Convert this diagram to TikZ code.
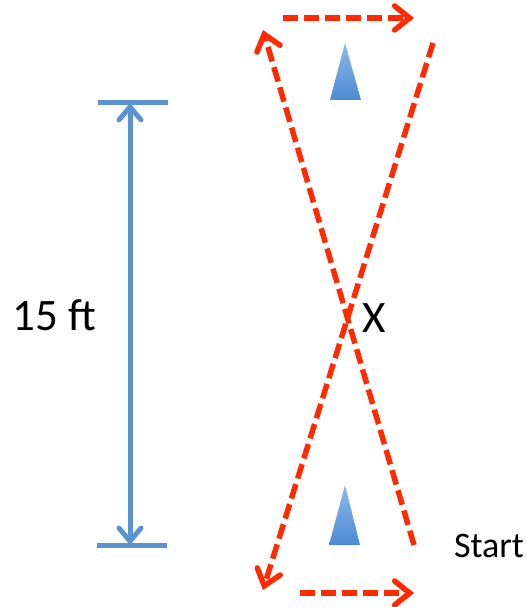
\documentclass[tikz,border=0pt]{standalone}
\usepackage{fontspec}
\setmainfont{Carlito}
\usetikzlibrary{arrows.meta}
\definecolor{runred}{HTML}{FF2A00}
\definecolor{dimblue}{HTML}{5B93D0}
\definecolor{conetop}{HTML}{8DBAEA}
\definecolor{conebot}{HTML}{4C8AD2}
\tikzset{
  runpath/.style={draw=runred, line width=5.5pt, dash pattern=on 15pt off 6pt,
    -{Straight Barb[length=15pt,width=24pt,line cap=round]}},
  dimline/.style={draw=dimblue, line width=5pt},
  dimarrow/.style={dimline, {Straight Barb[length=13pt,width=22pt,line cap=round]}-{Straight Barb[length=13pt,width=22pt,line cap=round]}},
  cone/.style={top color=conetop, bottom color=conebot},
  lbl/.style={inner sep=0pt, text=black}
}
\begin{document}
\begin{tikzpicture}[x=1pt,y=-1pt]
\useasboundingbox (0,0) rectangle (527,607);
% coordinates
\coordinate (tAs) at (283,18);
\coordinate (tAe) at (414,18);
\coordinate (bAs) at (300,593);
\coordinate (bAe) at (414,593);
\coordinate (lnAs) at (414,545);
\coordinate (lnAe) at (263,30);
\coordinate (lnBs) at (433,43);
\coordinate (lnBe) at (263,590);
\coordinate (dimTop) at (130,103);
\coordinate (dimBot) at (130,545);
\coordinate (barTl) at (98,103);
\coordinate (barTr) at (168,103);
\coordinate (barBl) at (97,545);
\coordinate (barBr) at (167,545);
% cones
\shade[cone] (345,43) -- (361,100) -- (330,100) -- cycle;
\shade[cone] (345,485) -- (360,545) -- (329,545) -- cycle;
% dimension
\draw[dimline] (barTl) -- (barTr);
\draw[dimline] (barBl) -- (barBr);
\draw[dimarrow] (dimTop) -- (dimBot);
% run paths
\draw[runpath] (tAs) -- (tAe);
\draw[runpath] (bAs) -- (bAe);
\draw[runpath] (lnAs) -- (lnAe);
\draw[runpath] (lnBs) -- (lnBe);
% labels
\node[lbl, anchor=base, font=\fontsize{45}{50}\selectfont] (ft) at (54.5,330) {15 ft};
\node[lbl, anchor=base, font=\fontsize{45}{50}\selectfont] (xmark) at (374.5,332) {X};
\node[lbl, anchor=base, font=\fontsize{36}{40}\selectfont] (start) at (489,557) {Start};
\end{tikzpicture}
\end{document}
